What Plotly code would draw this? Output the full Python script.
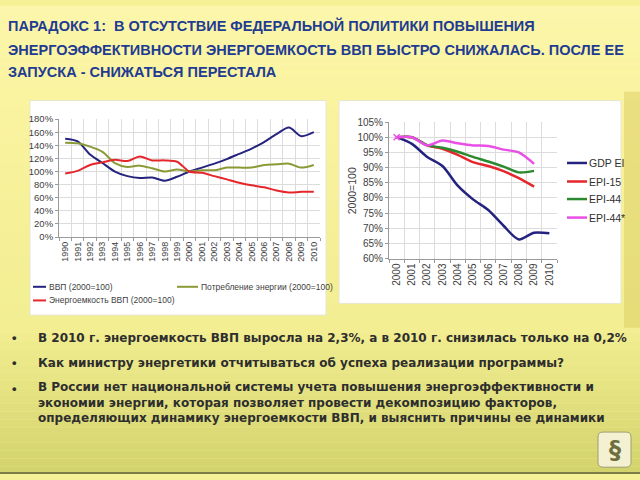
import plotly.graph_objects as go

# ---------------- data ----------------
years_left = ["1990", "1991", "1992", "1993", "1994", "1995", "1996", "1997", "1998", "1999", "2000",
              "2001", "2002", "2003", "2004", "2005", "2006", "2007", "2008", "2009", "2010"]
gdp_idx = [150, 146, 126, 113, 100, 93, 90, 91, 86, 92, 100, 106, 112, 119, 127, 135, 145, 157, 167, 154, 160]
energy_cons = [144, 143, 138, 130, 113, 107, 109, 105, 100, 103, 100, 102, 102, 106, 106, 106, 110, 111, 112, 106, 110]
energy_int = [97, 101, 110, 114, 118, 116, 123, 117, 117, 115, 100, 98, 93, 88, 83, 79, 76, 71, 68, 69, 69]
left_names = ["ВВП (2000=100)", "Потребление энергии (2000=100)", "Энергоемкость ВВП (2000=100)"]

years_right = ["2000", "2001", "2002", "2003", "2004", "2005", "2006", "2007", "2008", "2009", "2010"]
gdp_ei = [100, 97.8, 93.5, 90.5, 84.0, 79.5, 76.0, 70.8, 66.3, 68.5, 68.3]
epi15 = [100, 100, 97.3, 96.2, 94.2, 91.8, 90.5, 88.8, 86.5, 83.7]
epi44 = [100, 100, 97.4, 96.5, 95.2, 93.5, 92.0, 90.3, 88.4, 88.9]
epi44s = [100, 100, 97.3, 98.9, 98.0, 97.3, 97.1, 95.9, 95.0, 91.2]
right_names = ["GDP EI", "EPI-15", "EPI-44", "EPI-44*"]

title_lines = ["ПАРАДОКС 1:  В ОТСУТСТВИЕ ФЕДЕРАЛЬНОЙ ПОЛИТИКИ ПОВЫШЕНИЯ",
               "ЭНЕРГОЭФФЕКТИВНОСТИ ЭНЕРГОЕМКОСТЬ ВВП БЫСТРО СНИЖАЛАСЬ. ПОСЛЕ ЕЕ",
               "ЗАПУСКА - СНИЖАТЬСЯ ПЕРЕСТАЛА"]
bullets = [["В 2010 г. энергоемкость ВВП выросла на 2,3%, а в 2010 г. снизилась только на 0,2%"],
           ["Как министру энергетики отчитываться об успеха реализации программы?"],
           ["В России нет национальной системы учета повышения энергоэффективности и",
            "экономии энергии, которая позволяет провести декомпозицию факторов,",
            "определяющих динамику энергоемкости ВВП, и выяснить причины ее динамики"]]

# ---------------- helpers ----------------
W, H = 640, 480
def px(x): return x / W
def py(y): return 1 - y / H

TITLEF = "Liberation Sans, Arial, sans-serif"
SANS = "Liberation Sans, Arial, sans-serif"
BODYF = "DejaVu Sans, Verdana, sans-serif"

C_BLUE = "#24237f"
C_RED = "#e5262b"
C_OLIVE = "#8c9a35"
C_GREEN = "#2b8a2f"
C_MAG = "#e94fe6"

fig = go.Figure()

# left chart traces
fig.add_trace(go.Scatter(x=years_left, y=gdp_idx, name=left_names[0], mode="lines",
                         line=dict(color=C_BLUE, width=2, shape="spline", smoothing=0.8),
                         xaxis="x", yaxis="y"))
fig.add_trace(go.Scatter(x=years_left, y=energy_cons, name=left_names[1], mode="lines",
                         line=dict(color=C_OLIVE, width=2, shape="spline", smoothing=0.8),
                         xaxis="x", yaxis="y"))
fig.add_trace(go.Scatter(x=years_left, y=energy_int, name=left_names[2], mode="lines",
                         line=dict(color=C_RED, width=2, shape="spline", smoothing=0.8),
                         xaxis="x", yaxis="y"))

# right chart traces
right_series = [(gdp_ei, C_BLUE), (epi15, C_RED), (epi44, C_GREEN), (epi44s, C_MAG)]
for (vals, col), nm in zip(right_series, right_names):
    fig.add_trace(go.Scatter(x=years_right[:len(vals)], y=vals, name=nm, mode="lines",
                             line=dict(color=col, width=2.5, shape="spline", smoothing=0.8),
                             xaxis="x2", yaxis="y2"))
# small x marker at start of EPI-44*
fig.add_trace(go.Scatter(x=years_right[:1], y=epi44s[:1], mode="markers",
                         marker=dict(symbol="x-thin", size=6, line=dict(color=C_MAG, width=1.5)),
                         xaxis="x2", yaxis="y2", showlegend=False))

# ---------------- background ----------------
shapes = []
stops = [(0, (251, 246, 172)), (90, (250, 243, 160)), (330, (242, 238, 146)), (480, (210, 210, 108))]
def col_at(y):
    for (y0, c0), (y1, c1) in zip(stops[:-1], stops[1:]):
        if y0 <= y <= y1:
            t = (y - y0) / (y1 - y0)
            return "rgb(%d,%d,%d)" % tuple(round(a + (b - a) * t) for a, b in zip(c0, c1))
    return "rgb(%d,%d,%d)" % stops[-1][1]
step = 8
for y in range(0, H, step):
    shapes.append(dict(type="rect", xref="paper", yref="paper", x0=0, x1=1,
                       y0=py(y + step), y1=py(y), fillcolor=col_at(y + step / 2),
                       line=dict(width=0), layer="below"))
# darker right strip
shapes.append(dict(type="rect", xref="paper", yref="paper", x0=px(624), x1=1, y0=py(330), y1=py(88),
                   fillcolor="rgba(215,200,90,0.45)", line=dict(width=0), layer="below"))
# white chart boxes
shapes.append(dict(type="rect", xref="paper", yref="paper", x0=px(30), x1=px(326), y0=py(317), y1=py(97),
                   fillcolor="white", line=dict(color="#e6e6d0", width=1), layer="below"))
shapes.append(dict(type="rect", xref="paper", yref="paper", x0=px(339), x1=px(621), y0=py(305), y1=py(97),
                   fillcolor="white", line=dict(color="#e6e6d0", width=1), layer="below"))
# bottom dark line
shapes.append(dict(type="rect", xref="paper", yref="paper", x0=0, x1=1, y0=0, y1=py(478),
                   fillcolor="#7d7d4a", line=dict(width=0), layer="below"))
# logo box
x0, x1, y0, y1, r = 598, 631, 437, 473, 5
path = (f"M{px(x0+r)},{py(y0)} L{px(x1-r)},{py(y0)} Q{px(x1)},{py(y0)} {px(x1)},{py(y0+r)} "
        f"L{px(x1)},{py(y1-r)} Q{px(x1)},{py(y1)} {px(x1-r)},{py(y1)} L{px(x0+r)},{py(y1)} "
        f"Q{px(x0)},{py(y1)} {px(x0)},{py(y1-r)} L{px(x0)},{py(y0+r)} Q{px(x0)},{py(y0)} {px(x0+r)},{py(y0)} Z")
shapes.append(dict(type="path", xref="paper", yref="paper", path=path, fillcolor="#f3f1d2",
                   line=dict(color="#a09e74", width=1), layer="below"))

# legend keys (left)
left_keys = [(33, 46, 288, C_BLUE), (177, 198, 288, C_OLIVE), (33, 46, 302, C_RED)]
for (a, b, y, c) in left_keys:
    shapes.append(dict(type="line", xref="paper", yref="paper", x0=px(a), x1=px(b), y0=py(y), y1=py(y),
                       line=dict(color=c, width=2)))
right_keys_y = [161, 180, 198, 217]
for (vals, c), y in zip(right_series, right_keys_y):
    shapes.append(dict(type="line", xref="paper", yref="paper", x0=px(567), x1=px(587), y0=py(y), y1=py(y),
                       line=dict(color=c, width=2.5)))

# ---------------- annotations ----------------
ann = []
for txt, y in zip(title_lines, [20, 45, 68]):
    ann.append(dict(text="<b>" + txt + "</b>", x=px(6), y=py(y), xref="paper", yref="paper",
                    xanchor="left", yanchor="middle", showarrow=False,
                    font=dict(family=TITLEF, size=14.5, color="#1f3c92")))
for lines, y in zip(bullets, [340, 366, 407]):
    top_line_y = y - (len(lines) - 1) * 15 / 2
    ann.append(dict(text="<b>•</b>", x=px(10), y=py(top_line_y), xref="paper", yref="paper",
                    xanchor="left", yanchor="middle", showarrow=False,
                    font=dict(family=SANS, size=13, color="#2e2e2e")))
    ann.append(dict(text="<br>".join("<b>" + t + "</b>" for t in lines), x=px(36), y=py(y),
                    xref="paper", yref="paper", xanchor="left", yanchor="middle", align="left",
                    showarrow=False, font=dict(family=BODYF, size=12, color="#2e2e2e")))
# left legend text
for nm, (a, b, y, c) in zip(left_names, left_keys):
    ann.append(dict(text=nm, x=px(b + 1), y=py(y), xref="paper", yref="paper",
                    xanchor="left", yanchor="middle", showarrow=False,
                    font=dict(family=SANS, size=8.5, color="#404040")))
for nm, y in zip(right_names, right_keys_y):
    ann.append(dict(text=nm, x=px(587), y=py(y), xref="paper", yref="paper",
                    xanchor="left", yanchor="middle", showarrow=False,
                    font=dict(family=SANS, size=10.5, color="#303030")))
# right y title
ann.append(dict(text="2000=100", x=px(352), y=py(190), xref="paper", yref="paper", textangle=-90,
                xanchor="center", yanchor="middle", showarrow=False,
                font=dict(family=SANS, size=10.5, color="#404040")))
# logo glyph
ann.append(dict(text="<b>§</b>", x=px(614.5), y=py(455), xref="paper", yref="paper",
                xanchor="center", yanchor="middle", showarrow=False,
                font=dict(family="DejaVu Sans", size=24, color="#6f6e3e")))

grid = "#dcdcdc"
axis_common = dict(showgrid=True, gridcolor=grid, gridwidth=1, zeroline=False,
                   showline=True, linecolor="#9a9a9a", linewidth=1, fixedrange=True)

fig.update_layout(
    width=W, height=H, margin=dict(l=0, r=0, t=0, b=0),
    paper_bgcolor="rgb(246,240,150)", plot_bgcolor="white",
    showlegend=False, shapes=shapes, annotations=ann,
    xaxis=dict(domain=[px(59), px(320)], anchor="y", type="category", range=[-0.5, 20.5],
               tickson="boundaries", tickangle=-90, ticks="outside", ticklen=3, tickcolor="#9a9a9a",
               tickfont=dict(family=SANS, size=9, color="#404040"), **axis_common),
    yaxis=dict(domain=[py(237), py(116)], anchor="x", range=[0, 180], dtick=20, ticksuffix="%",
               ticks="outside", ticklen=3, tickcolor="#9a9a9a",
               tickfont=dict(family=SANS, size=9.5, color="#404040"), **axis_common),
    xaxis2=dict(domain=[px(389), px(557)], anchor="y2", type="category", range=[-0.5, 10.5],
                tickson="boundaries", tickangle=-90, ticks="outside", ticklen=3, tickcolor="#9a9a9a",
                tickfont=dict(family=SANS, size=10, color="#404040"), **axis_common),
    yaxis2=dict(domain=[py(259), py(119)], anchor="x2", range=[60, 105], dtick=5, ticksuffix="%",
                ticks="outside", ticklen=3, tickcolor="#9a9a9a",
                tickfont=dict(family=SANS, size=10, color="#404040"), **axis_common),
)

fig.write_html("out.html")
